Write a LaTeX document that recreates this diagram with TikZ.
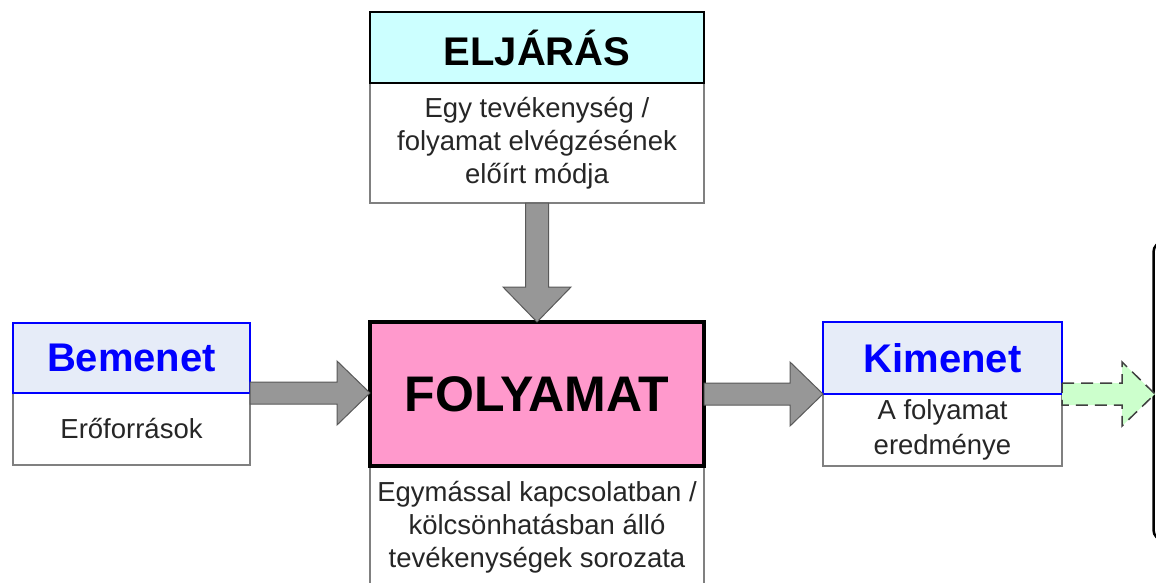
\documentclass[tikz,border=0pt]{standalone}
\usepackage{fontspec}
\setmainfont{Liberation Sans}
\usetikzlibrary{positioning,calc}
\definecolor{hdrblue}{HTML}{E6ECF8}
\definecolor{hdrcyan}{HTML}{CCFFFF}
\definecolor{procpink}{HTML}{FF99CC}
\definecolor{outgreen}{HTML}{CCFFCC}
\definecolor{arrowgrey}{HTML}{979797}
\definecolor{edgegrey}{HTML}{808080}

\tikzset{
  box/.style={draw, outer sep=0pt, inner sep=0pt, align=center},
  descr/.style={box, draw=edgegrey, fill=white, line width=1.5pt, text=black!85,
    font=\fontsize{27.5}{33}\selectfont},
  iohead/.style={box, draw=blue, fill=hdrblue, line width=2pt, text=blue,
    minimum height=70, font=\fontsize{40}{44}\selectfont\bfseries},
  bigarrow/.style={draw=black!65, fill=arrowgrey, line width=1pt},
  outarrow/.style={draw=black!75, fill=outgreen, line width=1.5pt, dash pattern=on 12pt off 7pt},
}

% horizontal block arrow: from, to
\newcommand\hblock[3][bigarrow]{%
  \draw[#1] let \p1=(#2), \p2=(#3) in
    (\x1,\y1+11pt) -- (\x2-33pt,\y1+11pt) -- (\x2-33pt,\y1+32pt) -- (\x2,\y1)
    -- (\x2-33pt,\y1-32pt) -- (\x2-33pt,\y1-11pt) -- (\x1,\y1-11pt) -- cycle;}

\begin{document}
\begin{tikzpicture}[x=1pt,y=-1pt]
  \useasboundingbox (0,0) rectangle (1156,583);
  \clip (0,0) rectangle (1156,583);

  \node[descr, minimum width=334, minimum height=120] (eljbody) at (537,143)
    {Egy tevékenység /\\folyamat elvégzésének\\előírt módja};
  \node[box, above=0pt of eljbody, minimum width=334, minimum height=71,
    fill=hdrcyan, line width=2.5pt, font=\fontsize{40}{44}\selectfont\bfseries] (eljaras) {ELJÁRÁS};

  \node[descr, anchor=north, minimum width=334, minimum height=122] (folybody) at (537,466)
    {Egymással kapcsolatban /\\kölcsönhatásban álló\\tevékenységek sorozata};
  \node[box, above=0pt of folybody, minimum width=334, minimum height=144,
    fill=procpink, line width=3.5pt, font=\fontsize{50}{56}\selectfont\bfseries] (folyamat) {FOLYAMAT};

  \node[descr, minimum width=237, minimum height=72] (bembody) at (131.5,429) {Erőforrások};
  \node[iohead, above=0pt of bembody, minimum width=237] (bemenet) {Bemenet};

  \node[descr, minimum width=239, minimum height=72, font=\fontsize{27.5}{35}\selectfont] (kimbody) at (942.5,430)
    {A folyamat\\eredménye};
  \node[iohead, above=0pt of kimbody, minimum width=239, minimum height=72] (kimenet) {Kimenet};

  \coordinate (next) at (1155,394);
  \draw[line width=2.5pt, rounded corners=10pt] (1153.5,242) rectangle (1200,540);

  \draw[bigarrow] let \p1=(eljbody.south), \p2=(folyamat.north) in
    (\x1-11.5pt,\y1) -- (\x1-11.5pt,\y2+35pt) -- (\x1-34pt,\y2+35pt) -- (\x2,\y2)
    -- (\x1+34pt,\y2+35pt) -- (\x1+11.5pt,\y2+35pt) -- (\x1+11.5pt,\y1) -- cycle;
  \hblock{bemenet.south east}{folyamat.west}
  \hblock{folyamat.east}{kimenet.south west}
  \hblock[outarrow]{kimenet.south east}{next}
\end{tikzpicture}
\end{document}
